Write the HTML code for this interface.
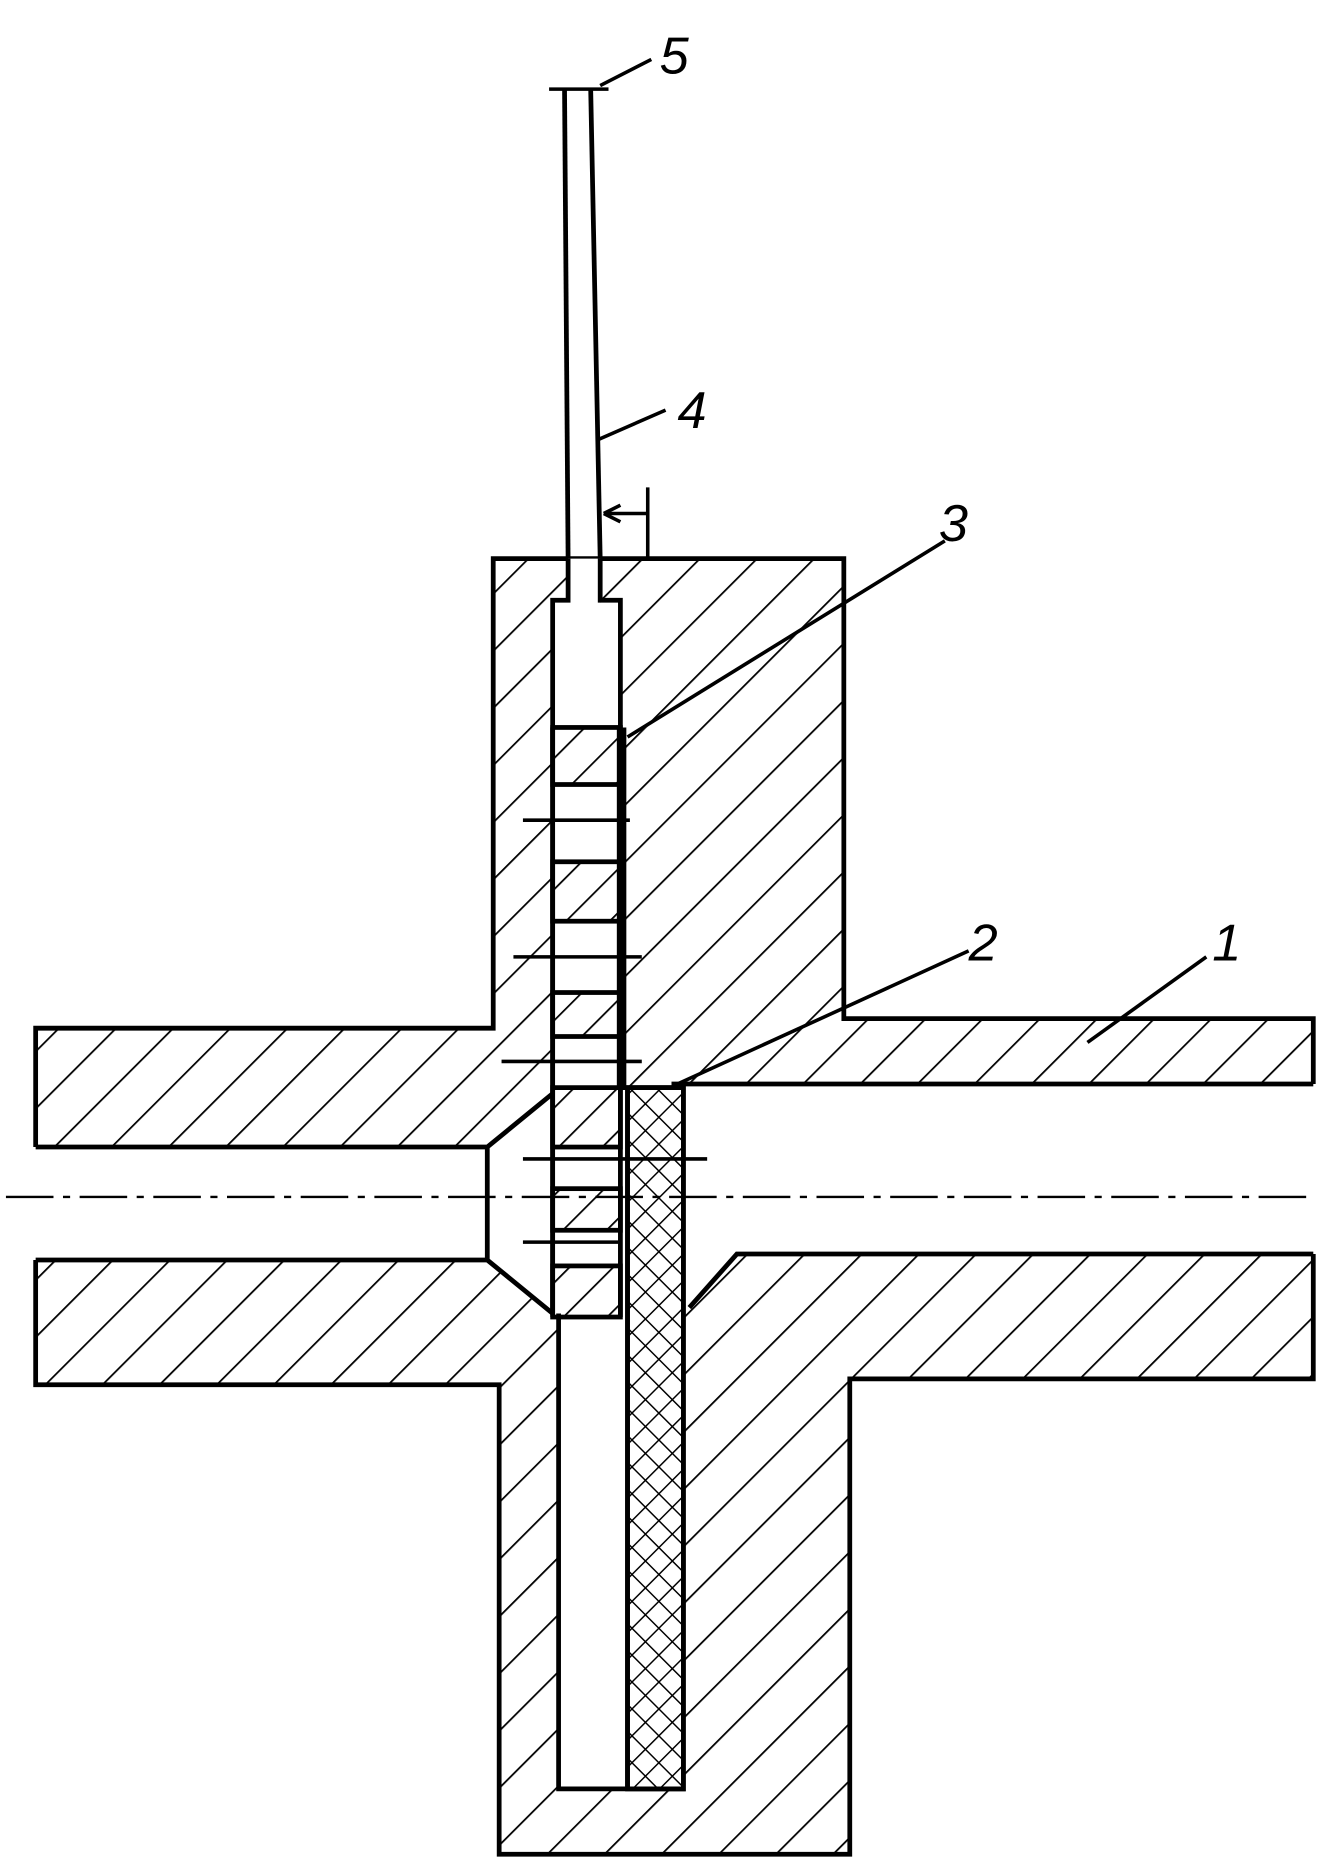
<!DOCTYPE html>
<html><head><style>html,body{margin:0;padding:0;background:#fff}svg{display:block}</style></head>
<body>
<svg width="1343" height="1865" viewBox="0 0 1130 1569" preserveAspectRatio="none" xmlns="http://www.w3.org/2000/svg">
<defs>
<pattern id="h" width="34" height="34" patternUnits="userSpaceOnUse" patternTransform="rotate(45)">
<line x1="0" y1="0" x2="0" y2="34" stroke="#000" stroke-width="3"/>
</pattern>
<pattern id="h2" width="26" height="26" patternUnits="userSpaceOnUse" patternTransform="rotate(45)">
<line x1="0" y1="0" x2="0" y2="26" stroke="#000" stroke-width="3"/>
</pattern>
<pattern id="x" width="16" height="16" patternUnits="userSpaceOnUse" patternTransform="rotate(45)">
<line x1="0" y1="0" x2="0" y2="16" stroke="#000" stroke-width="2.5"/>
<line x1="0" y1="0" x2="16" y2="0" stroke="#000" stroke-width="2.5"/>
</pattern>
</defs>
<g stroke="#000" stroke-width="4" fill="none" stroke-linejoin="miter">
<path d="M415 470 L710 470 L710 857 L1105 857 L1105 1160 L715 1160 L715 1560 L420 1560 L420 1165 L30 1165 L30 865 L415 865 Z" fill="url(#h)"/>
<path d="M26 965 L410 965 L465 920 L465 1105 L410 1060 L26 1060 Z" fill="#fff" stroke="none"/>
<path d="M30 965 L410 965 L465 920 M30 1060 L410 1060 L465 1105 M410 965 L410 1060"/>
<path d="M565 912 L1109 912 L1109 1055 L620 1055 L580 1100 L575 1100 L575 912 Z" fill="#fff" stroke="none"/>
<path d="M565 912 L1105 912 M1105 1055 L620 1055 L580 1100"/>
<path d="M465 510 L478 510 L478 470 L505 470 L505 510 L522 510 L522 915 L575 915 L575 1505 L470 1505 L470 1105 L465 1105 Z" fill="#fff" stroke="none"/>
<path d="M478 470 L478 505 L465 505 L465 1105 M505 470 L505 505 L522 505 L522 612 M470 1105 L470 1505 L575 1505 L575 915 L522 915"/>
<rect x="528" y="915" width="47" height="590" fill="url(#x)"/>
<line x1="528" y1="915" x2="528" y2="1505"/>
<g stroke-width="4">
<rect x="465" y="612" width="57" height="48" fill="url(#h2)"/>
<rect x="465" y="725" width="57" height="50" fill="url(#h2)"/>
<rect x="465" y="835" width="57" height="37" fill="url(#h2)"/>
<rect x="465" y="915" width="57" height="50" fill="url(#h2)"/>
<rect x="465" y="1000" width="57" height="35" fill="url(#h2)"/>
<rect x="465" y="1065" width="57" height="43" fill="url(#h2)"/>
<line x1="465" y1="612" x2="465" y2="1108"/>
</g>
<line x1="523" y1="612" x2="523" y2="915" stroke-width="8"/>
<line x1="522" y1="915" x2="522" y2="1108"/>
<g stroke-width="3">
<line x1="440" y1="690" x2="530" y2="690"/>
<line x1="432" y1="805" x2="540" y2="805"/>
<line x1="422" y1="893" x2="540" y2="893"/>
<line x1="440" y1="975" x2="595" y2="975"/>
<line x1="440" y1="1045" x2="520" y2="1045"/>
</g>
<line x1="475" y1="75" x2="478" y2="470"/>
<line x1="497" y1="75" x2="505" y2="470"/>
<line x1="462" y1="75" x2="512" y2="75" stroke-width="3"/>
<line x1="545" y1="410" x2="545" y2="470" stroke-width="3"/>
<line x1="545" y1="432" x2="508" y2="432" stroke-width="3"/>
<path d="M508 432 L522 425 M508 432 L522 439" stroke-width="3"/>
<g stroke-width="3">
<line x1="505" y1="72" x2="548" y2="50"/>
<line x1="503" y1="370" x2="560" y2="345"/>
<line x1="528" y1="620" x2="795" y2="455"/>
<line x1="570" y1="912" x2="815" y2="800"/>
<line x1="915" y1="877" x2="1015" y2="805"/>
</g>
<line x1="5" y1="1007" x2="1105" y2="1007" stroke-width="2" stroke-dasharray="40 8 6 8"/>
</g>
<g font-family="Liberation Sans, sans-serif" font-style="italic" font-size="44" fill="#000">
<text x="555" y="62">5</text>
<text x="570" y="360">4</text>
<text x="790" y="455">3</text>
<text x="815" y="808">2</text>
<text x="1020" y="808">1</text>
</g>
</svg>
</body></html>
